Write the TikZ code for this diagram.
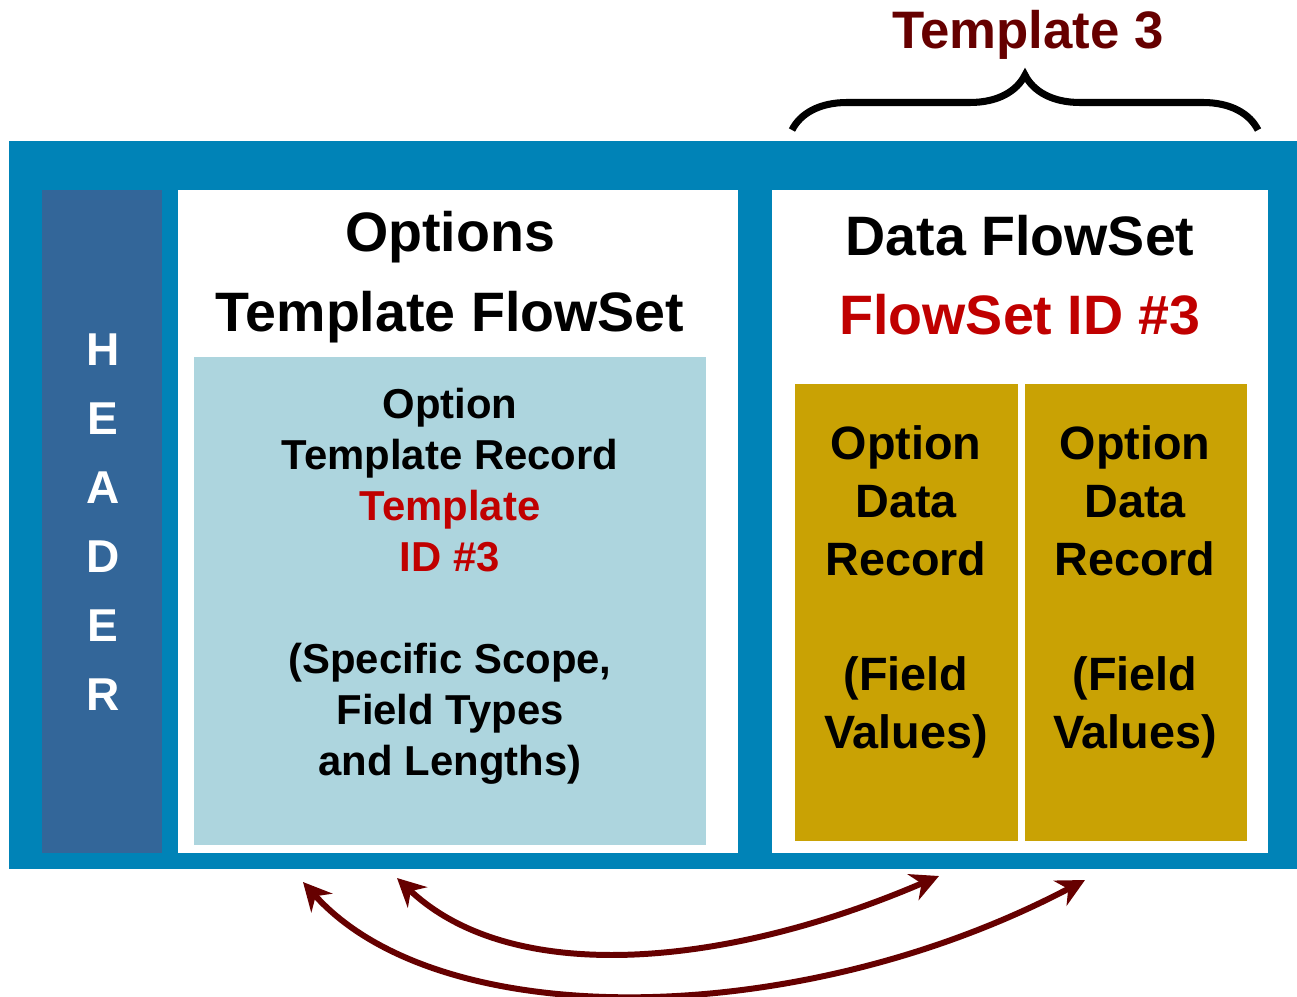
\documentclass[tikz,border=0pt]{standalone}
\usepackage{fontspec}
\setmainfont{Liberation Sans}
\usetikzlibrary{arrows.meta,positioning,decorations.pathreplacing}
\definecolor{cFrame}{HTML}{0083B7}
\definecolor{cHead}{HTML}{336699}
\definecolor{cTmpl}{HTML}{ADD5DE}
\definecolor{cRec}{HTML}{C9A204}
\definecolor{cRed}{HTML}{C00000}
\definecolor{cDark}{HTML}{660000}

\begin{document}
\begin{tikzpicture}[
  x=0.01cm, y=-0.01cm,
  box/.style={anchor=north west, inner sep=0pt, outer sep=0pt},
  title/.style={align=center, font={\fontsize{15.8}{22.6}\selectfont\bfseries}},
  tmpltxt/.style={align=center, font={\fontsize{11.9}{14.5}\selectfont\bfseries}},
  rectxt/.style={align=center, font={\fontsize{13.3}{16.4}\selectfont\bfseries}},
  link/.style={{Stealth[length=8pt,width=8pt]}-{Stealth[length=8pt,width=8pt]},
               draw=cDark, line width=1.7pt},
]
\useasboundingbox (0,0) rectangle (1297,996);

% ---------------- packet frame ----------------
\node (frame) [box, fill=cFrame, minimum width=12.88cm, minimum height=7.28cm] at (9,141) {};
\node (header) [box, fill=cHead, minimum width=1.20cm, minimum height=6.63cm] at (42,190) {};
\node (hdrtxt) [align=center, text=white,
  font={\fontsize{13.1}{19.6}\selectfont\bfseries}] at (103,522) {H\\E\\A\\D\\E\\R};

% ---------------- options template flowset ----------------
\node (opts) [box, fill=white, minimum width=5.60cm, minimum height=6.63cm] at (178,190) {};
\node (optstxt) [title] at (450,277) {Options\\Template FlowSet};
\node (tmpl) [box, fill=cTmpl, minimum width=5.12cm, minimum height=4.88cm] at (194,357) {};
\node (tmpltxt) [tmpltxt] at (450,586) {Option\\Template Record\\
  \textcolor{cRed}{Template}\\\textcolor{cRed}{ID \#3}\\[14.5pt]
  (Specific Scope,\\Field Types\\and Lengths)};

% ---------------- data flowset ----------------
\node (data) [box, fill=white, minimum width=4.96cm, minimum height=6.63cm] at (772,190) {};
\node (datatxt) [title] at (1020,275) {Data FlowSet\\\textcolor{cRed}{FlowSet ID \#3}};
\node (rec1) [box, fill=cRec, minimum width=2.23cm, minimum height=4.57cm] at (795,384) {};
\node (rec2) [box, fill=cRec, minimum width=2.22cm, minimum height=4.57cm] at (1025,384) {};
\node (rec1txt) [rectxt] at (906,592) {Option\\Data\\Record\\[16.4pt](Field\\Values)};
\node (rec2txt) [rectxt] at (1135,592) {Option\\Data\\Record\\[16.4pt](Field\\Values)};

% ---------------- template brace ----------------
\draw[line width=2pt, decorate, decoration={brace, amplitude=0.55cm}]
  (792,130) -- (1258,130);
\node (bracetxt) [text=cDark, font={\fontsize{15}{17}\selectfont\bfseries}] at (1028,35) {Template 3};

% ---------------- template / record links ----------------
\coordinate (tplA) at (303,882);
\coordinate (tplB) at (397,878);
\coordinate (recA) at (939,876);
\coordinate (recB) at (1085,880);
\draw[link] (tplB) .. controls (510,985) and (720,970) .. (recA);
\draw[link] (tplA) .. controls (440,1035) and (800,1030) .. (recB);

\end{tikzpicture}
\end{document}
